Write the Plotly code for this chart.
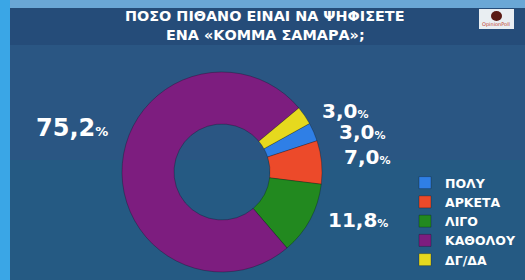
import plotly.graph_objects as go

labels = ["ΠΟΛΥ", "ΑΡΚΕΤΑ", "ΛΙΓΟ", "ΚΑΘΟΛΟΥ", "ΔΓ/ΔΑ"]
values = [3.0, 7.0, 11.8, 75.2, 3.0]
colors = ["#2f7fe6", "#ec4a2a", "#22891f", "#7d1d7f", "#e6d91e"]
title_lines = ["ΠΟΣΟ ΠΙΘΑΝΟ ΕΙΝΑΙ ΝΑ ΨΗΦΙΣΕΤΕ", "ΕΝΑ «ΚΟΜΜΑ ΣΑΜΑΡΑ»;"]
# label anchor positions (pixels) for each value's text
label_px = [(362, 132), (367, 157), (358, 220), (72, 128), (345, 111)]
label_size = [20, 20, 20, 24, 20]

W, H = 525, 280
FONT = "DejaVu Sans"

fig = go.Figure()
fig.add_trace(go.Pie(
    labels=labels, values=values, sort=False, direction="clockwise",
    rotation=61, hole=0.48, textinfo="none", hoverinfo="label+percent",
    marker=dict(colors=colors, line=dict(color="rgba(0,0,0,0.25)", width=1)),
    domain=dict(x=[(222 - 100) / W, (222 + 100) / W], y=[1 - 272 / H, 1 - 72 / H]),
))

def fmt(v):
    return f"{v:.1f}".replace(".", ",")

annotations = []
for v, (px, py), fs in zip(values, label_px, label_size):
    annotations.append(dict(
        x=px / W, y=1 - py / H, xref="paper", yref="paper", showarrow=False,
        text=f"<b>{fmt(v)}<span style='font-size:{int(fs*0.55)}px'>%</span></b>",
        font=dict(family=FONT, size=fs, color="white"), xanchor="center", yanchor="middle",
    ))
for line, anchor in zip(title_lines, ["bottom", "top"]):
    annotations.append(dict(
        x=265 / W, y=1 - 25.5 / H, xref="paper", yref="paper", showarrow=False,
        text="<b>" + line + "</b>", borderpad=0,
        font=dict(family=FONT, size=14.4, color="white"), xanchor="center", yanchor=anchor,
    ))
annotations.append(dict(
    x=496 / W, y=1 - 24 / H, xref="paper", yref="paper", showarrow=False,
    text="OpinionPoll", font=dict(family=FONT, size=5, color="#c0392b"),
    xanchor="center", yanchor="middle",
))

shapes = [
    # lower lighter band
    dict(type="rect", xref="paper", yref="paper", x0=0, x1=1, y0=0, y1=1 - 160 / H,
         fillcolor="rgba(30,95,130,0.45)", line_width=0, layer="below"),
    dict(type="rect", xref="paper", yref="paper", x0=0, x1=1, y0=1 - 45 / H, y1=1,
         fillcolor="rgba(35,70,115,0.6)", line_width=0, layer="below"),
    # top light strip
    dict(type="rect", xref="paper", yref="paper", x0=0, x1=1, y0=1 - 8 / H, y1=1,
         fillcolor="#6aa7d6", line_width=0, layer="below"),
    # left light strip
    dict(type="rect", xref="paper", yref="paper", x0=0, x1=10 / W, y0=0, y1=1,
         fillcolor="#3aa6e6", line_width=0, layer="below"),
    # logo box
    dict(type="rect", xref="paper", yref="paper", x0=479 / W, x1=514 / W,
         y0=1 - 29 / H, y1=1 - 9 / H, fillcolor="#e9eef2", line_width=0),
    dict(type="circle", xref="paper", yref="paper", x0=491 / W, x1=502 / W,
         y0=1 - 21 / H, y1=1 - 11 / H, fillcolor="#5a1a14", line_width=0),
]

fig.update_layout(
    width=W, height=H, margin=dict(l=0, r=0, t=0, b=0),
    paper_bgcolor="#2a5683", plot_bgcolor="rgba(0,0,0,0)",
    showlegend=True,
    legend=dict(x=405 / W, y=1 - 168 / H, xanchor="left", yanchor="top",
                font=dict(family=FONT, size=12.5, color="white", weight="bold"),
                bgcolor="rgba(0,0,0,0)", traceorder="normal", itemclick=False),
    annotations=annotations, shapes=shapes,
)

fig.write_html("out.html")
